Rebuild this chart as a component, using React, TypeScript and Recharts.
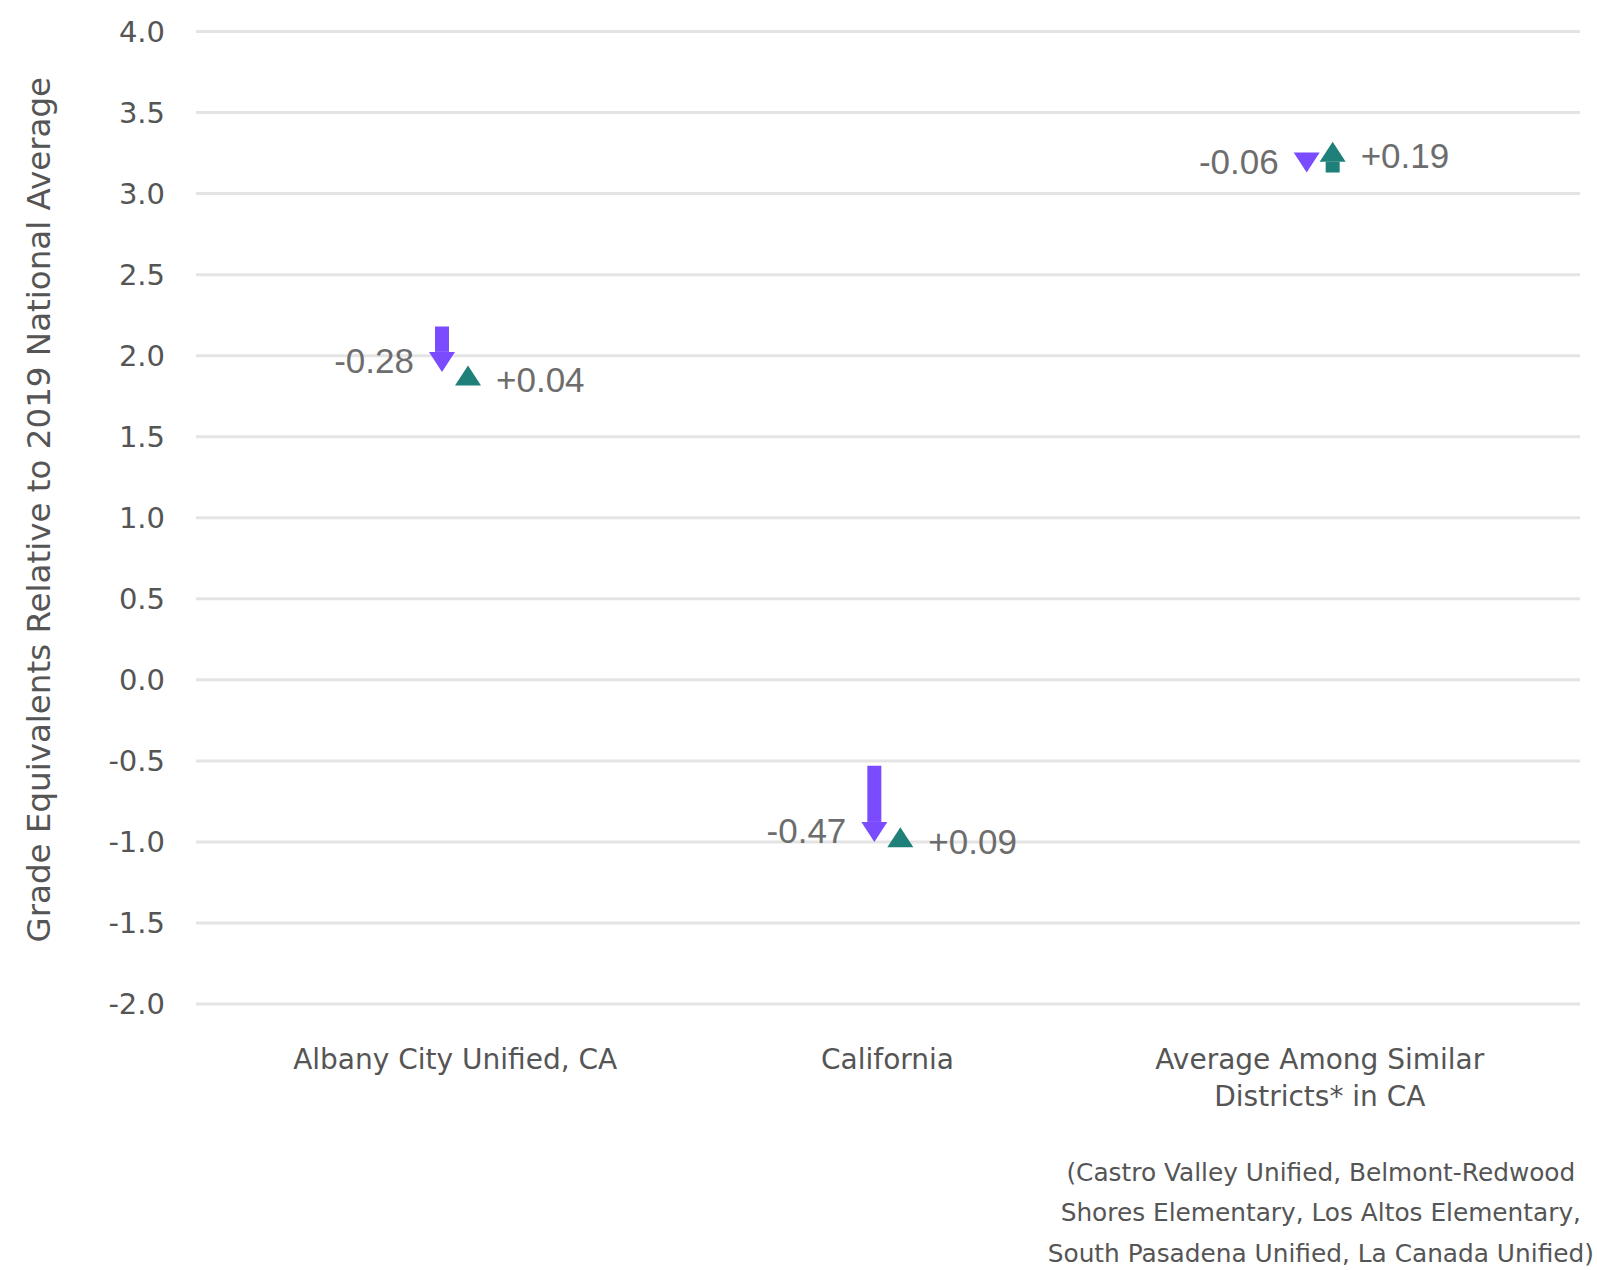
import React from "react"
import { ComposedChart, Bar, XAxis, YAxis, CartesianGrid, Label } from "recharts"

const categories = ["Albany City Unified, CA", "California", "Average Among Similar Districts* in CA"]
const categoryLines = [["Albany City Unified, CA"], ["California"], ["Average Among Similar", "Districts* in CA"]]
const footnoteLines = [
  "(Castro Valley Unified, Belmont-Redwood",
  "Shores Elementary, Los Altos Elementary,",
  "South Pasadena Unified, La Canada Unified)",
]
// grade equivalents vs 2019 national average
const start2019 = [2.18, -0.53, 3.19]
const dropChange = [-0.28, -0.47, -0.06]
const reboundChange = [0.04, 0.09, 0.19]
const yTicks = [-2, -1.5, -1, -0.5, 0, 0.5, 1, 1.5, 2, 2.5, 3, 3.5, 4]

const PURPLE = "#7b4cff"
const TEAL = "#1f8079"
const VALUE_GRAY = "#6d6d6d"
const AXIS_GRAY = "#555555"
const AXIS_FONT = "DejaVu Sans"

const data = categories.map((name, i) => {
  const mid = +(start2019[i] + dropChange[i]).toFixed(2)
  const end = +(mid + reboundChange[i]).toFixed(2)
  return { name, start: start2019[i], mid, end, drop: dropChange[i], rebound: reboundChange[i] }
})

const fmt = (v: number) => (v > 0 ? "+" : "") + v.toFixed(2)

function Arrow(props: any) {
  const { x, y, width, height, payload, kind } = props
  const color = kind === "drop" ? PURPLE : TEAL
  const value = kind === "drop" ? payload.drop : payload.rebound
  const cx = x + width / 2
  const top = Math.min(y, y + height)
  const bot = Math.max(y, y + height)
  const headLen = 20
  const headHalf = 13
  const down = value < 0
  const tip = down ? bot : top
  const base = down ? tip - headLen : tip + headLen
  const showShaft = down ? top < base : bot > base
  return (
    <g>
      {showShaft && (
        <rect
          x={cx - width / 2}
          y={down ? top : base}
          width={width}
          height={down ? base - top : bot - base}
          fill={color}
        />
      )}
      <polygon points={`${cx - headHalf},${base} ${cx + headHalf},${base} ${cx},${tip}`} fill={color} />
      {down ? (
        <text x={cx - 28} y={tip - 11} textAnchor="end" dominantBaseline="central"
          fontFamily="Liberation Sans" fontSize={35} fill={VALUE_GRAY}>
          {fmt(value)}
        </text>
      ) : (
        <text x={cx + 28} y={tip + 14} textAnchor="start" dominantBaseline="central"
          fontFamily="Liberation Sans" fontSize={35} fill={VALUE_GRAY}>
          {fmt(value)}
        </text>
      )}
    </g>
  )
}

function CategoryTick(props: any) {
  const { x, y, index } = props
  const lines = categoryLines[index] || []
  return (
    <g>
      {lines.map((l, i) => (
        <text key={i} x={x} y={y + 47 + i * 37} textAnchor="middle" dominantBaseline="central"
          fontFamily={AXIS_FONT} fontSize={28} fill={AXIS_GRAY}>
          {l}
        </text>
      ))}
      {index === 2 &&
        footnoteLines.map((l, i) => (
          <text key={"f" + i} x={x + 1} y={y + 160 + i * 40.5} textAnchor="middle" dominantBaseline="central"
            fontFamily={AXIS_FONT} fontSize={24.8} fill={AXIS_GRAY}>
            {l}
          </text>
        ))}
    </g>
  )
}

function YTitle(props: any) {
  const { viewBox } = props
  const cy = viewBox.y + viewBox.height / 2 - 8
  return (
    <text x={39} y={cy} transform={`rotate(-90, 39, ${cy})`} textAnchor="middle" dominantBaseline="central"
      fontFamily={AXIS_FONT} fontSize={32.5} fill={AXIS_GRAY}>
      Grade Equivalents Relative to 2019 National Average
    </text>
  )
}

export default function App() {
  return (
    <div style={{ position: "absolute", left: 0, top: 0, width: 1597, height: 1270, background: "#fff" }}>
      <ComposedChart
        width={1597}
        height={1270}
        data={data}
        margin={{ top: 31.5, right: 17, bottom: 0, left: 76 }}
        barSize={14}
        barGap={12}
      >
        <CartesianGrid vertical={false} stroke="#e4e4e4" strokeWidth={3} />
        <XAxis
          dataKey="name"
          axisLine={false}
          tickLine={false}
          height={266}
          padding={{ left: 43, right: 44 }}
          tick={<CategoryTick />}
          interval={0}
        />
        <YAxis
          domain={[-2, 4]}
          ticks={yTicks}
          width={120}
          axisLine={false}
          tickLine={false}
          tickMargin={25}
          tickFormatter={(v: number) => v.toFixed(1)}
          tick={{ fontFamily: AXIS_FONT, fontSize: 29, fill: AXIS_GRAY }}
          interval={0}
        >
          <Label content={<YTitle />} />
        </YAxis>
        <Bar dataKey={(d: any) => [d.start, d.mid]} fill={PURPLE} isAnimationActive={false}
          shape={(p: any) => <Arrow {...p} kind="drop" />} />
        <Bar dataKey={(d: any) => [d.mid, d.end]} fill={TEAL} isAnimationActive={false}
          shape={(p: any) => <Arrow {...p} kind="rebound" />} />
      </ComposedChart>
    </div>
  )
}
